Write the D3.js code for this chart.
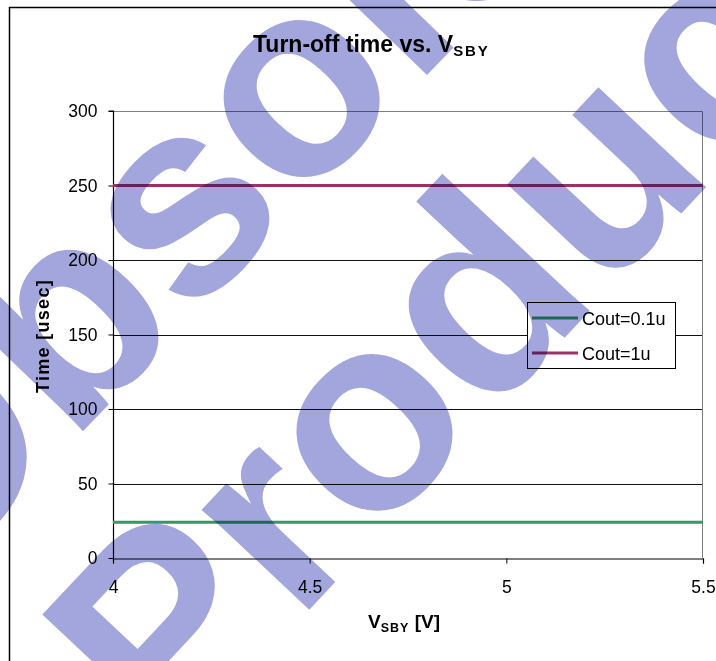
<!DOCTYPE html>
<html><head><meta charset="utf-8">
<script src="https://cdn.jsdelivr.net/npm/d3@7"></script>
<style>
html,body{margin:0;padding:0;background:#fff;}
svg{display:block;font-family:"Liberation Sans",Arial,sans-serif;}
</style></head>
<body>
<script>
// ---- data ----
const xValues = [4, 4.5, 5, 5.5];
const seriesNames = ["Cout=0.1u", "Cout=1u"];
const cout01 = [24, 24, 24, 24];
const cout1 = [250, 250, 250, 250];
const seriesColors = ["#339966", "#993366"];
const yTicks = [0, 50, 100, 150, 200, 250, 300];
const xTicks = [4, 4.5, 5, 5.5];
const watermarkLines = ["Obsolete", "Product"];

const W = 716, H = 661;
const svg = d3.select("body").append("svg").attr("width", W).attr("height", H);

// outer chart border
svg.append("path").attr("d", `M9.5,${H} V7.5 H${W}`).attr("fill","none").attr("stroke","#000").attr("stroke-width",1.5);

const x = d3.scaleLinear().domain([4, 5.5]).range([113, 703]);
const y = d3.scaleLinear().domain([0, 300]).range([558, 111]);

// gridlines
const g = svg.append("g");
g.selectAll(".grid").data(yTicks.filter(d => d > 0 && d < 300)).join("line")
  .attr("x1", x(4)).attr("x2", x(5.5)).attr("y1", d => Math.round(y(d)) + 0.5).attr("y2", d => Math.round(y(d)) + 0.5)
  .attr("stroke", "#111").attr("stroke-width", 1);
// plot border top & right (gray)
g.append("path").attr("d", `M${x(4)},${Math.round(y(300))+0.5} H${x(5.5)-0.5} V${y(0)}`)
  .attr("fill","none").attr("stroke","#808080").attr("stroke-width",1);

// axes
const yAxis = d3.axisLeft(y).tickValues(yTicks).tickSize(5).tickPadding(11).tickFormat(d3.format("d"));
const yg = svg.append("g").attr("transform", `translate(${x(4)+0.5},0)`).call(yAxis);
const xAxis = d3.axisBottom(x).tickValues(xTicks).tickSize(5).tickPadding(17).tickFormat(d => String(d));
const xg = svg.append("g").attr("transform", `translate(0,${Math.round(y(0))+0.5})`).call(xAxis);
[yg, xg].forEach(a => {
  a.select(".domain").attr("stroke","#000").attr("stroke-width",1.2);
  a.selectAll(".tick line").attr("stroke","#000");
  a.selectAll(".tick text").attr("fill","#000").style("font-size","17.5px").style("font-family",'"Liberation Sans",Arial,sans-serif');
});
yg.select(".domain").attr("d", `M-5,${y(300)}H0V${y(0)}`);

// series
const line = d3.line().x((d,i) => x(xValues[i])).y(d => y(d));
[cout01, cout1].forEach((s, k) => {
  svg.append("path").datum(s).attr("d", line).attr("fill","none")
    .attr("stroke", seriesColors[k]).attr("stroke-width", 3.2);
});

// title
const title = svg.append("text").attr("x", 253).attr("y", 52).attr("font-weight","bold").attr("font-size", 23).attr("fill","#000");
title.append("tspan").text("Turn-off time  vs. V");
title.append("tspan").attr("font-size", 15).attr("letter-spacing", 1.8).attr("dy", 4).text("SBY");

// x axis title
const xt = svg.append("text").attr("x", 368).attr("y", 628).attr("font-weight","bold").attr("font-size", 19).attr("fill","#000");
xt.append("tspan").text("V");
xt.append("tspan").attr("font-size", 12.5).attr("letter-spacing", 1).attr("dy", 4).text("SBY");
xt.append("tspan").attr("dy", -4).text(" [V]");

// y axis title
svg.append("text").attr("transform", "translate(49,336) rotate(-90)").attr("text-anchor","middle")
  .attr("font-weight","bold").attr("font-size", 18).attr("letter-spacing", 1.3).attr("fill","#000").text("Time [usec]");

// legend
const lg = svg.append("g");
lg.append("rect").attr("x", 527.5).attr("y", 302.5).attr("width", 148).attr("height", 66)
  .attr("fill","#fff").attr("stroke","#000").attr("stroke-width",1);
seriesNames.forEach((n, i) => {
  const yy = 318 + i * 35;
  lg.append("line").attr("x1", 532).attr("x2", 578).attr("y1", yy).attr("y2", yy)
    .attr("stroke", seriesColors[i]).attr("stroke-width", 3.2);
  lg.append("text").attr("x", 582).attr("y", yy + 7).attr("font-size", 18).attr("fill","#000").text(n);
});

// watermark
const wmTransforms = ["translate(-80,600) rotate(-46)", "translate(169,759) rotate(-46.8)"];
const wm = svg.append("g").style("mix-blend-mode","multiply");
wm.selectAll("text").data(watermarkLines).join("text")
  .attr("transform", (d,i) => wmTransforms[i])
  .attr("font-size", 278).attr("font-weight","bold").attr("fill","#a3a6dc")
  .text(d => d);
</script>
</body></html>
